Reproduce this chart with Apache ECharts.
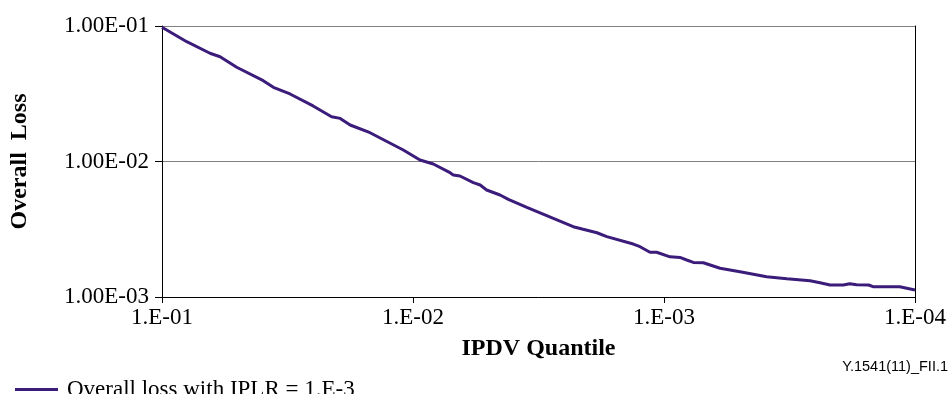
<!DOCTYPE html>
<html>
<head>
<meta charset="utf-8">
<script src="https://cdn.jsdelivr.net/npm/echarts@6/dist/echarts.min.js"></script>
<style>html,body{margin:0;padding:0;background:#fff}#c{width:952px;height:394px}</style>
</head>
<body>
<div id="c"></div>
<script>
var quantile = [0.1, 0.0797, 0.0644, 0.0587, 0.0504, 0.0395, 0.0360, 0.0309, 0.0250, 0.0211, 0.0195, 0.0178, 0.01483, 0.01093, 0.00938, 0.0083, 0.00712, 0.00691, 0.0065, 0.00575, 0.0054, 0.00509, 0.0045, 0.00417, 0.00352, 0.00276, 0.0023, 0.0021, 0.00185, 0.00169, 0.001326, 0.001246, 0.001137, 0.00107, 0.000946, 0.000864, 0.000812, 0.000764, 0.000697, 0.000598, 0.000498, 0.00039, 0.000324, 0.000262, 0.000239, 0.000218, 0.000193, 0.000182, 0.000171, 0.000153, 0.000147, 0.000115, 0.0001];
var overallLoss = [0.098, 0.0766, 0.0629, 0.0593, 0.0496, 0.0395, 0.0353, 0.0315, 0.0257, 0.0214, 0.0208, 0.0186, 0.01631, 0.01216, 0.01026, 0.00958, 0.00827, 0.00795, 0.00782, 0.00698, 0.00671, 0.00616, 0.00566, 0.00526, 0.00459, 0.00381, 0.0033, 0.00316, 0.00298, 0.00279, 0.00246, 0.00235, 0.00214, 0.00214, 0.00198, 0.00196, 0.001875, 0.0018, 0.00179, 0.00163, 0.001538, 0.001412, 0.001365, 0.00132, 0.001275, 0.001226, 0.001226, 0.001253, 0.001232, 0.001226, 0.001191, 0.001191, 0.001126];
var xTickValues = [0.1, 0.01, 0.001, 0.0001];
var xTickLabels = ['1.E-01', '1.E-02', '1.E-03', '1.E-04'];
var yTickValues = [0.1, 0.01, 0.001];
var yTickLabels = ['1.00E-01', '1.00E-02', '1.00E-03'];
var seriesName = 'Overall loss with IPLR = 1.E-3';
var xTitle = 'IPDV Quantile';
var yTitle = 'Overall  Loss';
var figureId = 'Y.1541(11)_FII.1';

function lookup(vals, labels, v) {
  var best = 0, bd = Infinity;
  for (var i = 0; i < vals.length; i++) {
    var d = Math.abs(Math.log10(vals[i]) - Math.log10(v));
    if (d < bd) { bd = d; best = i; }
  }
  return bd < 0.01 ? labels[best] : '';
}

var data = quantile.map(function (q, i) { return [q, overallLoss[i]]; });
var serif = '"Liberation Serif", "Times New Roman", serif';

var chart = echarts.init(document.getElementById('c'), null, { renderer: 'canvas' });
chart.setOption({
  animation: false,
  backgroundColor: '#fff',
  grid: { left: 162, right: 37, top: 26, bottom: 97, containLabel: false },
  xAxis: {
    type: 'log', logBase: 10, inverse: true,
    min: 0.0001, max: 0.1,
    name: xTitle, nameLocation: 'middle', nameGap: 40,
    nameTextStyle: { fontFamily: serif, fontWeight: 'bold', fontSize: 24, color: '#000' },
    axisLine: { show: true, lineStyle: { color: '#000', width: 1 } },
    axisTick: { show: true, inside: false, length: 6, lineStyle: { color: '#000' } },
    minorTick: { show: false },
    splitLine: { show: false },
    axisLabel: {
      margin: 9, fontFamily: serif, fontSize: 23, color: '#000',
      formatter: function (v) { return lookup(xTickValues, xTickLabels, v); }
    }
  },
  yAxis: [{
    type: 'log', logBase: 10,
    min: 0.001, max: 0.1,
    name: yTitle, nameLocation: 'middle', nameGap: 130, nameRotate: 90,
    nameTextStyle: { fontFamily: serif, fontWeight: 'bold', fontSize: 24, color: '#000' },
    axisLine: { show: true, lineStyle: { color: '#000', width: 1 } },
    axisTick: { show: true, inside: false, length: 7, lineStyle: { color: '#000' } },
    splitLine: { show: true, lineStyle: { color: '#808080', width: 1 } },
    axisLabel: {
      margin: 13, fontFamily: serif, fontSize: 23, color: '#000',
      formatter: function (v) { return lookup(yTickValues, yTickLabels, v); }
    }
  }, {
    type: 'log', logBase: 10, position: 'right',
    min: 0.001, max: 0.1,
    axisLine: { show: true, lineStyle: { color: '#000', width: 1 } },
    axisTick: { show: false }, axisLabel: { show: false }, splitLine: { show: false }
  }],
  legend: {
    left: 15, top: 378, padding: 0, itemWidth: 43, itemHeight: 14, itemGap: 10,
    textStyle: { fontFamily: serif, fontSize: 23, color: '#000', padding: [0, 0, 0, 4] },
    data: [{ name: seriesName, icon: 'path://M0,6 L43,6 L43,9 L0,9 Z' }]
  },
  graphic: [{
    type: 'text', right: 4, top: 359,
    style: { text: figureId, font: '14.5px "Liberation Sans", Arial, sans-serif', fill: '#000' }
  }],
  series: [{
    name: seriesName, type: 'line', data: data,
    showSymbol: false, symbol: 'none', smooth: false,
    lineStyle: { color: '#3b1c7a', width: 3 },
    itemStyle: { color: '#3b1c7a' }
  }]
});
</script>
</body>
</html>
